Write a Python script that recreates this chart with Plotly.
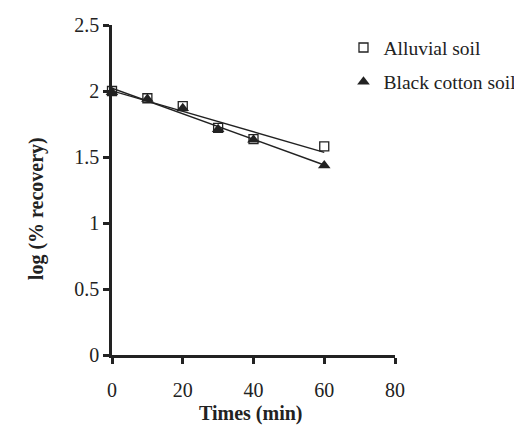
import numpy as np
import plotly.graph_objects as go

times = [0, 10, 20, 30, 40, 60]
alluvial = [2.00, 1.945, 1.885, 1.72, 1.635, 1.58]
black_cotton = [1.99, 1.94, 1.87, 1.71, 1.63, 1.435]
x_ticks = [0, 20, 40, 60, 80]
y_ticks = [0, 0.5, 1, 1.5, 2, 2.5]

FONT = "Liberation Serif"
INK = "#222"

fig = go.Figure()

for ys in [alluvial, black_cotton]:
    slope, intercept = np.polyfit(times, ys, 1)
    xl = [times[0], times[-1]]
    yl = [intercept + slope * v for v in xl]
    fig.add_trace(go.Scatter(x=xl, y=yl, mode="lines", line=dict(color=INK, width=1.4),
                             showlegend=False, hoverinfo="skip", cliponaxis=False))

fig.add_trace(go.Scatter(x=times, y=alluvial, mode="markers", name="Alluvial soil",
                         legendgroup="a",
                         marker=dict(symbol="square-open", size=9, color=INK, line=dict(width=1.3, color=INK)),
                         cliponaxis=False))
fig.add_trace(go.Scatter(x=times, y=black_cotton, mode="markers", name="Black cotton soil",
                         legendgroup="b",
                         marker=dict(symbol="triangle-up", size=11, color=INK),
                         cliponaxis=False))

fig.update_layout(
    width=522, height=427,
    margin=dict(l=104, r=135, t=17, b=80, autoexpand=False),
    paper_bgcolor="white", plot_bgcolor="white",
    font=dict(family=FONT, size=20, color=INK),
    showlegend=True,
    legend=dict(x=0.818, y=0.99, xanchor="left", yanchor="top", bgcolor="rgba(0,0,0,0)",
                font=dict(family=FONT, size=19.5, color=INK), itemwidth=30,
                traceorder="grouped", tracegroupgap=6),
    xaxis=dict(range=[0, 80], tickvals=x_ticks, showgrid=False, zeroline=False,
               showline=True, linecolor=INK, linewidth=2.5,
               ticks="outside", ticklen=6, tickwidth=2.5, tickcolor=INK,
               ticklabelstandoff=9),
    yaxis=dict(range=[0, 2.5], tickvals=y_ticks, showgrid=False, zeroline=False,
               showline=True, linecolor=INK, linewidth=2.5,
               ticks="outside", ticklen=6, tickwidth=2.5, tickcolor=INK),
    annotations=[
        dict(text="<b>Times (min)</b>", xref="paper", yref="paper", x=0.49, y=-0.178,
             xanchor="center", yanchor="middle", showarrow=False, font=dict(size=20)),
        dict(text="<b>log (% recovery)</b>", xref="paper", yref="paper", x=-0.2686, y=0.445,
             xanchor="center", yanchor="middle", textangle=-90, showarrow=False, font=dict(size=20)),
    ],
)

fig.write_html("out.html")
